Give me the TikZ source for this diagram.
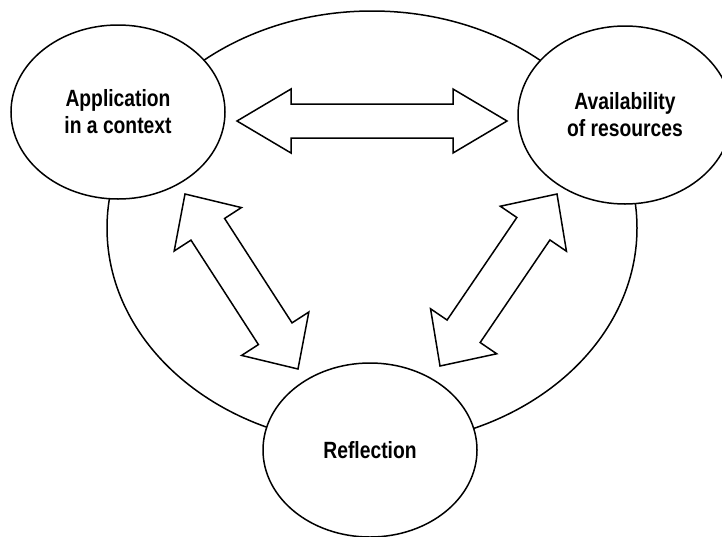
\documentclass[tikz,border=0pt]{standalone}
\usepackage{fontspec}
\newfontfamily\labelfont[FakeStretch=0.82]{Liberation Sans}
\usetikzlibrary{calc,shapes.geometric}

\newcommand{\twowayarrow}[5]{%
  \draw[linkarrow] (#1)
    -- ($(#1)!#5!(#2)!#4!90:(#2)$)
    -- ($(#1)!#5!(#2)!#3!90:(#2)$)
    -- ($(#2)!#5!(#1)!#3!-90:(#1)$)
    -- ($(#2)!#5!(#1)!#4!-90:(#1)$)
    -- (#2)
    -- ($(#2)!#5!(#1)!#4!90:(#1)$)
    -- ($(#2)!#5!(#1)!#3!90:(#1)$)
    -- ($(#1)!#5!(#2)!#3!-90:(#2)$)
    -- ($(#1)!#5!(#2)!#4!-90:(#2)$)
    -- cycle;}

\begin{document}
\begin{tikzpicture}[x=1pt, y=-1pt,
  topicbox/.style={ellipse, draw, line width=1.5pt, fill=white,
    minimum width=214pt, minimum height=174pt, inner sep=0pt, align=center,
    font=\labelfont\bfseries\fontsize{23.5}{27}\selectfont},
  cyclering/.style={ellipse, draw, line width=1.5pt,
    minimum width=530pt, minimum height=434pt, inner sep=0pt},
  linkarrow/.style={draw, line width=1.5pt, fill=white, line join=miter}
]
\useasboundingbox (0,0) rectangle (722,536);
\node[cyclering] (ring) at (372,228) {};
\node[topicbox] (application) at (118,112) {Application\\in a context};
\node[topicbox, minimum height=178pt] (availability) at (625,115) {Availability\\of resources};
\node[topicbox] (reflection) at (370,450) {Reflection};
\coordinate (topleft) at (237,121);
\coordinate (topright) at (507,121);
\coordinate (appside) at (185,194);
\coordinate (refleft) at (298,369);
\coordinate (availside) at (557,194);
\coordinate (refright) at (440,366);
\twowayarrow{topleft}{topright}{17pt}{32pt}{54pt}
\twowayarrow{appside}{refleft}{20pt}{40pt}{42pt}
\twowayarrow{availside}{refright}{20pt}{40pt}{42pt}
\end{tikzpicture}
\end{document}
